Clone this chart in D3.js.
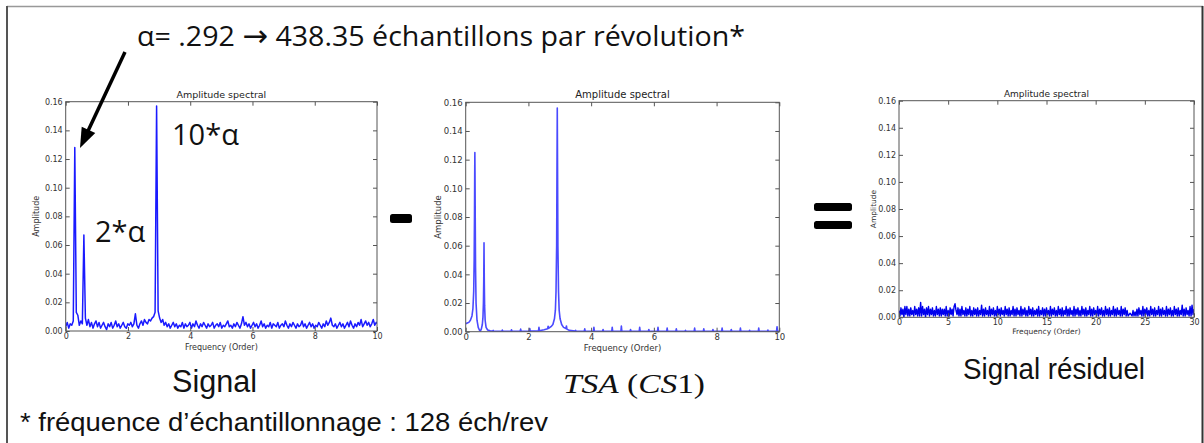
<!DOCTYPE html>
<html><head><meta charset="utf-8">
<script src="https://cdn.jsdelivr.net/npm/d3@7/dist/d3.min.js"></script>
<style>body{margin:0;background:#fff}svg{display:block}</style>
</head><body>
<svg id="c" width="1204" height="443"></svg>
<script>
// ---------------- DATA ----------------
// Signal spectrum: amplitude on a frequency grid of step alpha/6 (orders)
const signalStep = 0.292 / 6;
const signalAmp = [
.003,.006,.002,.005,.004,.007,.128,.013,.011,.004,.007,.005,.067,.009,.004,.008,.003,.006,.002,.005,
.007,.003,.006,.002,.004,.006,.003,.001,.005,.003,.006,.002,.004,.007,.003,.005,.002,.004,.006,.003,
.002,.005,.004,.006,.003,.005,.012,.004,.002,.005,.007,.004,.008,.006,.005,.008,.007,.009,.010,.013,
.157,.014,.009,.006,.008,.004,.006,.003,.005,.002,.004,.006,.003,.005,.002,.004,.003,.006,.002,.005,
.003,.004,.006,.002,.005,.003,.007,.004,.002,.005,.003,.006,.004,.002,.005,.003,.004,.006,.002,.004,
.005,.003,.006,.002,.004,.003,.005,.007,.003,.004,.002,.005,.003,.006,.004,.002,.005,.010,.004,.006,
.003,.005,.002,.004,.006,.003,.005,.002,.004,.007,.003,.005,.002,.004,.003,.006,.002,.005,.004,.003,
.006,.002,.004,.005,.003,.007,.004,.002,.005,.003,.006,.004,.002,.005,.003,.004,.007,.003,.005,.002,
.004,.006,.003,.005,.002,.004,.003,.006,.004,.002,.005,.003,.007,.004,.006,.009,.004,.003,.005,.002,
.004,.006,.003,.005,.002,.004,.006,.003,.007,.004,.002,.005,.003,.006,.004,.008,.003,.005,.007,.004,
.006,.003,.005,.008,.004,.006,.005
];
// TSA (CS1) spectrum: [order, amplitude]
const tsaSpectrum = [
[0,.0055],[.05,.006],[.1,.0065],[.15,.008],[.2,.011],[.23,.016],[.255,.028],[.27,.05],[.28,.08],[.287,.11],
[.292,.125],[.297,.11],[.304,.08],[.314,.045],[.33,.02],[.36,.008],[.4,.003],[.44,.001],[.47,.0005],[.5,.002],
[.53,.005],[.55,.01],[.565,.02],[.575,.035],[.58,.05],[.584,.062],[.588,.05],[.593,.035],[.603,.018],[.62,.008],
[.65,.003],[.7,.0012],[.78,.0006],[.86,.0004],[.876,.0009],[.89,.0004],
[1.153,.0003],[1.168,.0012],[1.183,.0003],[1.445,.0003],[1.46,.0013],[1.475,.0003],
[1.737,.0003],[1.752,.0018],[1.767,.0003],[2.029,.0004],[2.044,.0022],[2.059,.0004],
[2.321,.0006],[2.336,.003],[2.351,.0007],[2.5,.0013],[2.613,.002],[2.628,.0038],[2.643,.0024],
[2.72,.0035],[2.78,.005],[2.83,.009],[2.86,.015],[2.88,.028],[2.9,.06],[2.91,.11],[2.92,.156],[2.93,.11],
[2.94,.06],[2.96,.028],[2.98,.015],[3.01,.009],[3.06,.005],[3.12,.003],[3.197,.0022],[3.212,.004],[3.227,.0018],
[3.3,.0009],[3.489,.0004],[3.504,.001],[3.519,.0004],[3.781,.0003],[3.796,.002],[3.811,.0003],
[4.073,.0003],[4.088,.003],[4.103,.0003],[4.365,.0003],[4.38,.0015],[4.395,.0003],
[4.657,.0003],[4.672,.003],[4.687,.0003],[4.949,.0003],[4.964,.004],[4.979,.0003],
[5.241,.0003],[5.256,.0015],[5.271,.0003],[5.533,.0003],[5.548,.003],[5.563,.0003],
[5.825,.0003],[5.84,.0015],[5.855,.0003],[6.117,.0003],[6.132,.003],[6.147,.0003],
[6.409,.0003],[6.424,.0025],[6.439,.0003],[6.701,.0003],[6.716,.002],[6.731,.0003],
[6.993,.0003],[7.008,.001],[7.023,.0003],[7.285,.0003],[7.3,.0025],[7.315,.0003],
[7.577,.0003],[7.592,.002],[7.607,.0003],[7.869,.0003],[7.884,.0015],[7.899,.0003],
[8.161,.0003],[8.176,.0025],[8.191,.0003],[8.453,.0003],[8.468,.0015],[8.483,.0003],
[8.745,.0003],[8.76,.0025],[8.775,.0003],[9.037,.0003],[9.052,.001],[9.067,.0003],
[9.329,.0003],[9.344,.0025],[9.359,.0003],[9.621,.0003],[9.636,.0012],[9.651,.0003],
[9.913,.0003],[9.928,.0035],[9.943,.0003],[10,.0003]
];
// Residual signal spectrum: amplitude on a grid of step 0.1 order (0..30)
const residualStep = 0.1;
const residualAmp = [
.005,.001,.007,.002,.006,.000,.008,.002,.008,.001,.006,.001,.007,.002,.005,.001,.008,.002,.006,.001,
.007,.001,.011,.001,.008,.002,.006,.000,.007,.002,.008,.001,.006,.002,.007,.001,.005,.001,.008,.002,
.006,.001,.007,.001,.006,.002,.006,.001,.008,.001,.005,.001,.007,.002,.006,.001,.008,.010,.005,.002,
.007,.001,.006,.001,.008,.002,.005,.001,.007,.001,.006,.002,.008,.001,.005,.001,.007,.002,.006,.001,
.007,.001,.005,.002,.009,.001,.006,.001,.007,.002,.005,.001,.008,.001,.006,.002,.007,.001,.005,.001,
.008,.002,.006,.001,.007,.002,.005,.001,.008,.002,.006,.001,.007,.001,.005,.002,.008,.001,.006,.001,
.007,.002,.005,.001,.008,.001,.006,.002,.007,.001,.005,.001,.008,.002,.006,.001,.007,.001,.005,.002,
.006,.001,.008,.001,.005,.002,.007,.001,.006,.001,.007,.002,.005,.001,.008,.001,.006,.002,.007,.001,
.005,.001,.008,.002,.006,.001,.007,.001,.005,.002,.008,.001,.006,.001,.007,.002,.005,.001,.008,.001,
.006,.002,.007,.001,.005,.001,.008,.002,.006,.001,.007,.001,.005,.002,.008,.001,.006,.001,.007,.002,
.005,.001,.008,.001,.006,.002,.007,.001,.005,.001,.008,.002,.006,.001,.007,.001,.005,.002,.008,.001,
.006,.001,.007,.002,.005,.001,.008,.001,.006,.002,.007,.001,.005,.001,.002,.003,.002,.001,.005,.001,
.004,.001,.006,.001,.007,.002,.005,.001,.008,.001,.006,.002,.007,.001,.005,.001,.008,.002,.006,.001,
.007,.001,.005,.002,.008,.001,.006,.001,.007,.002,.005,.001,.008,.001,.006,.002,.007,.001,.005,.001,
.008,.002,.006,.001,.007,.001,.005,.002,.009,.001,.006,.001,.007,.002,.005,.001,.008,.001,.009,.002,
.006
];
const yTickValues = [0, .02, .04, .06, .08, .10, .12, .14, .16];
const xTicks10 = [0, 2, 4, 6, 8, 10];
const xTicks30 = [0, 5, 10, 15, 20, 25, 30];
const panelTitle = "Amplitude spectral";
const xLabel = "Frequency (Order)";
const yLabel = "Amplitude";
const headlineParts = ["α= .292 ", "→", " 438.35 échantillons par révolution*"];
const captions = ["Signal", "Signal résiduel"];
const footnote = "* fréquence d’échantillonnage : 128 éch/rev";

// ---------------- DRAW ----------------
const svg = d3.select("#c");
const FONT = "DejaVu Sans, sans-serif";

// outer frame
svg.append("line").attr("x1",7).attr("x2",1203).attr("y1",6.5).attr("y2",6.5).attr("stroke","#999").attr("stroke-width",1.5);
svg.append("line").attr("x1",7).attr("x2",7).attr("y1",6).attr("y2",443).attr("stroke","#555").attr("stroke-width",2);
svg.append("line").attr("x1",1202.5).attr("x2",1202.5).attr("y1",6).attr("y2",443).attr("stroke","#333").attr("stroke-width",2);

function panel(id, box, data, xDomain, xTicks, opt) {
  const x = d3.scaleLinear().domain(xDomain).range([box.x0, box.x1]);
  const y = d3.scaleLinear().domain([0, .16]).range([box.y1, box.y0]);
  svg.append("clipPath").attr("id", id).append("rect")
    .attr("x", box.x0).attr("y", box.y0 - 2).attr("width", box.x1 - box.x0).attr("height", box.y1 - box.y0 + 2);
  const line = d3.line().x(d => x(d[0])).y(d => y(d[1]));
  svg.append("path").datum(data).attr("clip-path", `url(#${id})`)
    .attr("d", line).attr("fill", "none").attr("stroke", opt.color)
    .attr("stroke-width", opt.sw).attr("stroke-linejoin", "round").attr("opacity", opt.op || 1);

  const g = svg.append("g").attr("font-family", FONT);
  const style = (a) => {
    a.select(".domain").remove();
    a.selectAll(".tick line").attr("stroke", "#555");
    a.selectAll("text").attr("fill", "#333").attr("font-size", opt.tfs).attr("font-family", FONT);
  };
  g.append("g").attr("transform", `translate(${box.x0},0)`)
    .call(d3.axisLeft(y).tickValues(yTickValues).tickFormat(d3.format(".2f")).tickSizeInner(-4).tickSizeOuter(0).tickPadding(3))
    .call(style);
  g.append("g").attr("transform", `translate(${box.x1},0)`)
    .call(d3.axisRight(y).tickValues(yTickValues).tickFormat("").tickSizeInner(-4).tickSizeOuter(0)).call(style);
  g.append("g").attr("transform", `translate(0,${box.y1})`)
    .call(d3.axisBottom(x).tickValues(xTicks).tickFormat(d3.format("d")).tickSizeInner(-4).tickSizeOuter(0).tickPadding(2))
    .call(style);
  g.append("g").attr("transform", `translate(0,${box.y0})`)
    .call(d3.axisTop(x).tickValues(xTicks).tickFormat("").tickSizeInner(-4).tickSizeOuter(0)).call(style);
  g.append("rect").attr("x", box.x0).attr("y", box.y0).attr("width", box.x1 - box.x0).attr("height", box.y1 - box.y0)
    .attr("fill", "none").attr("stroke", "#555").attr("stroke-width", 1);
  g.append("text").attr("x", (box.x0 + box.x1) / 2).attr("y", box.y0 - 4).attr("text-anchor", "middle")
    .attr("font-size", opt.titfs).attr("fill", "#222").text(panelTitle);
  g.append("text").attr("x", (box.x0 + box.x1) / 2).attr("y", box.y1 + opt.xlOff).attr("text-anchor", "middle")
    .attr("font-size", opt.lfs).attr("fill", "#333").text(xLabel);
  g.append("text").attr("transform", `translate(${opt.ylX},${(box.y0 + box.y1) / 2}) rotate(-90)`)
    .attr("text-anchor", "middle").attr("dy", "0.35em").attr("font-size", opt.lfs).attr("fill", "#333").text(yLabel);
}

const signalData = signalAmp.map((a, i) => [i * signalStep, a]);
const residualData = residualAmp.map((a, i) => [i * residualStep, a]);

panel("p1", {x0: 65.7, x1: 377, y0: 101.7, y1: 331}, signalData, [0, 10], xTicks10,
  {color: "#1a1aff", sw: 1.5, tfs: 8, titfs: 9.5, lfs: 8, xlOff: 19, ylX: 36});
panel("p2", {x0: 465.7, x1: 779.3, y0: 102.3, y1: 331.7}, tsaSpectrum, [0, 10], xTicks10,
  {color: "#4a4aff", sw: 1.6, tfs: 8.5, titfs: 10, lfs: 8.5, xlOff: 19, ylX: 438});
panel("p3", {x0: 899, x1: 1194, y0: 100.7, y1: 317.3}, residualData, [0, 30], xTicks30,
  {color: "#0000ee", sw: 1.4, tfs: 8, titfs: 9, lfs: 7.5, xlOff: 17, ylX: 873});

// annotations
const head = svg.append("text").attr("x", 137).attr("y", 46).attr("font-family", "Open Sans, sans-serif")
  .attr("font-size", 28).attr("fill", "#111").attr("textLength", 608).attr("lengthAdjust", "spacingAndGlyphs");
head.append("tspan").text(headlineParts[0]);
head.append("tspan").attr("font-family", "DejaVu Sans, sans-serif").attr("font-size", 30).text(headlineParts[1]);
head.append("tspan").text(headlineParts[2]);
svg.append("text").attr("x", 172).attr("y", 145).attr("font-family", "Open Sans, sans-serif")
  .attr("font-size", 29).attr("fill", "#111").text("10*α");
svg.append("text").attr("x", 95).attr("y", 242).attr("font-family", "Open Sans, sans-serif")
  .attr("font-size", 29).attr("fill", "#111").text("2*α");

// annotation arrow
(function(){
  const sx = 125, sy = 52, tx = 80, ty = 148;
  const L = Math.hypot(tx - sx, ty - sy), ux = (tx - sx) / L, uy = (ty - sy) / L;
  const hl = 20, hw = 7.5, bx = tx - hl * ux, by = ty - hl * uy;
  svg.append("line").attr("x1", sx).attr("y1", sy).attr("x2", bx + 2 * ux).attr("y2", by + 2 * uy)
    .attr("stroke", "#000").attr("stroke-width", 3.5);
  svg.append("path").attr("d", `M${tx},${ty}L${bx - hw * uy},${by + hw * ux}L${bx + hw * uy},${by - hw * ux}Z`).attr("fill", "#000");
})();

// operators
svg.append("rect").attr("x", 390).attr("y", 214).attr("width", 22).attr("height", 9).attr("rx", 2.5).attr("fill", "#000");
svg.append("rect").attr("x", 814).attr("y", 203).attr("width", 38).attr("height", 8).attr("rx", 2.5).attr("fill", "#000");
svg.append("rect").attr("x", 814).attr("y", 221).attr("width", 38).attr("height", 8).attr("rx", 2.5).attr("fill", "#000");

// captions
svg.append("text").attr("x", 172).attr("y", 392).attr("font-family", "Liberation Sans, Arial, sans-serif")
  .attr("font-size", 31).attr("fill", "#111").attr("textLength", 85).attr("lengthAdjust", "spacingAndGlyphs").text(captions[0]);
const tsa = svg.append("text").attr("x", 563).attr("y", 393).attr("font-family", "Liberation Serif, serif")
  .attr("font-size", 28).attr("fill", "#111").attr("textLength", 142).attr("lengthAdjust", "spacingAndGlyphs");
tsa.append("tspan").attr("font-style", "italic").text("TSA");
tsa.append("tspan").text(" (");
tsa.append("tspan").attr("font-style", "italic").text("CS");
tsa.append("tspan").text("1)");
svg.append("text").attr("x", 963).attr("y", 379).attr("font-family", "Liberation Sans, Arial, sans-serif")
  .attr("font-size", 29).attr("fill", "#111").attr("textLength", 182).attr("lengthAdjust", "spacingAndGlyphs").text(captions[1]);
svg.append("text").attr("x", 20).attr("y", 431).attr("font-family", "Liberation Sans, Arial, sans-serif")
  .attr("font-size", 25).attr("fill", "#111").attr("textLength", 528).attr("lengthAdjust", "spacingAndGlyphs").text(footnote);
</script>
</body></html>
